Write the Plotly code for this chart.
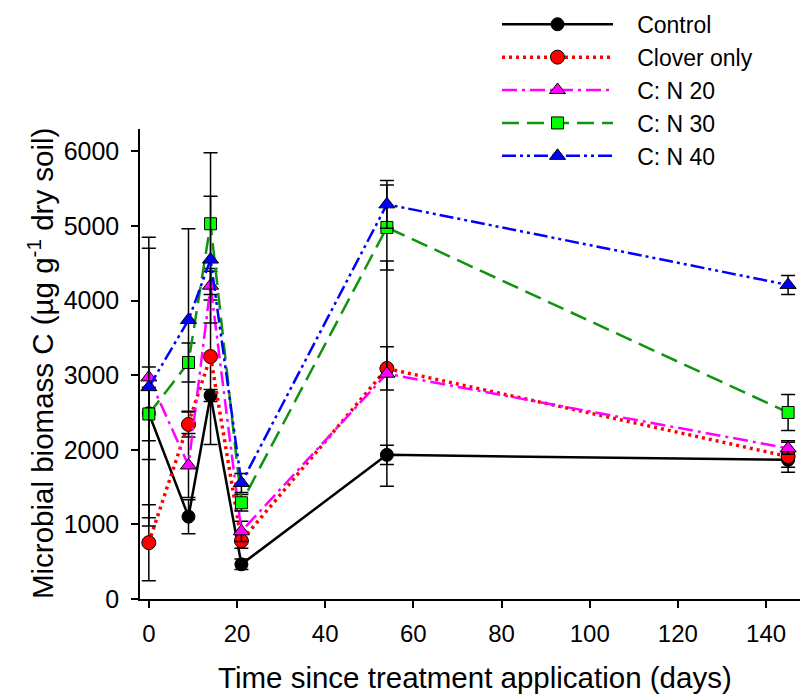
import plotly.graph_objects as go

days = [0, 9, 14, 21, 54, 145]

series_names = ["Control", "Clover only", "C: N 20", "C: N 30", "C: N 40"]

control = [2490, 1104, 2727, 465, 1932, 1865]
control_err = [620, 228, 80, 70, 130, 100]

clover = [755, 2340, 3250, 780, 3090, 1910]
clover_err = [510, 167, 1180, 100, 290, 210]

cn20 = [2970, 1790, 4200, 907, 3020, 2020]
cn20_err = [1880, 430, 193, 135, 1510, 80]

cn30 = [2480, 3170, 5030, 1290, 4980, 2500]
cn30_err = [360, 262, 950, 110, 570, 241]

cn40 = [2840, 3740, 4550, 1555, 5290, 4210]
cn40_err = [1860, 1224, 850, 126, 320, 127]

y_ticks = [0, 1000, 2000, 3000, 4000, 5000, 6000]
x_ticks = [0, 20, 40, 60, 80, 100, 120, 140]

x_title = "Time since treatment application (days)"
y_title = "Microbial biomass C (\u00b5g g<sup>-1</sup> dry soil)"

styles = [
    dict(line=dict(color="black", width=2.5, dash="solid"),
         marker=dict(symbol="circle", size=13, color="black",
                     line=dict(color="black", width=1))),
    dict(line=dict(color="#FF0000", width=3.5, dash="3px,4px"),
         marker=dict(symbol="circle", size=14, color="#FF0000",
                     line=dict(color="black", width=1))),
    dict(line=dict(color="#FF00FF", width=2.5, dash="15px,5px,3px,5px"),
         marker=dict(symbol="triangle-up", size=14, color="#FF00FF",
                     line=dict(color="black", width=1))),
    dict(line=dict(color="#109410", width=2.5, dash="17px,8px"),
         marker=dict(symbol="square", size=12, color="#00FF00",
                     line=dict(color="black", width=1))),
    dict(line=dict(color="#0000FF", width=2.5, dash="14px,4px,3px,4px,3px,4px"),
         marker=dict(symbol="triangle-up", size=14, color="#0000FF",
                     line=dict(color="black", width=1))),
]

values = [control, clover, cn20, cn30, cn40]
errors = [control_err, clover_err, cn20_err, cn30_err, cn40_err]

fig = go.Figure()
for name, vals, errs, st in zip(series_names, values, errors, styles):
    fig.add_trace(go.Scatter(
        x=days, y=vals, name="\u00a0\u00a0\u00a0" + name, mode="lines+markers",
        line=st["line"], marker=st["marker"],
        error_y=dict(type="data", array=errs, visible=True,
                     color="black", thickness=1.5, width=7),
    ))

font_family = "Liberation Sans, Arial, sans-serif"

fig.update_layout(
    width=805, height=695,
    margin=dict(l=140, r=5, t=129, b=96, autoexpand=False),
    paper_bgcolor="white", plot_bgcolor="white",
    font=dict(family=font_family, size=25, color="black"),
    showlegend=True,
    legend=dict(
        xref="container", yref="container",
        x=0.6174, y=0.996, xanchor="left", yanchor="top",
        bgcolor="rgba(0,0,0,0)", borderwidth=0,
        font=dict(family=font_family, size=23, color="black"),
        itemwidth=111, tracegroupgap=0,
    ),
    xaxis=dict(
        range=[-2, 147.7], tickvals=x_ticks, ticktext=[str(t) for t in x_ticks],
        showline=True, linecolor="black", linewidth=1.5,
        ticks="outside", ticklen=7, tickwidth=1.5, tickcolor="black",
        tickfont=dict(family=font_family, size=24, color="black"),
        ticklabelstandoff=5,
        showgrid=False, zeroline=False, automargin=False,
    ),
    yaxis=dict(
        range=[0, 6300], tickvals=y_ticks, ticktext=[str(t) for t in y_ticks],
        showline=True, linecolor="black", linewidth=1.5,
        ticks="outside", ticklen=7, tickwidth=1.5, tickcolor="black",
        tickfont=dict(family=font_family, size=25, color="black"),
        ticklabelstandoff=7,
        showgrid=False, zeroline=False, automargin=False,
    ),
    annotations=[
        dict(text=x_title, xref="paper", yref="paper",
             x=0.5076, y=-0.168, xanchor="center", yanchor="middle",
             showarrow=False, font=dict(family=font_family, size=29.5, color="black")),
        dict(text=y_title, xref="paper", yref="paper",
             x=-0.1515, y=0.5, xanchor="center", yanchor="middle", textangle=-90,
             showarrow=False, font=dict(family=font_family, size=29.5, color="black")),
    ],
)

fig.write_html("out.html",
               config={"displayModeBar": False},
               post_script="document.body.style.margin='0px';"
                           "document.body.style.overflow='hidden';")
